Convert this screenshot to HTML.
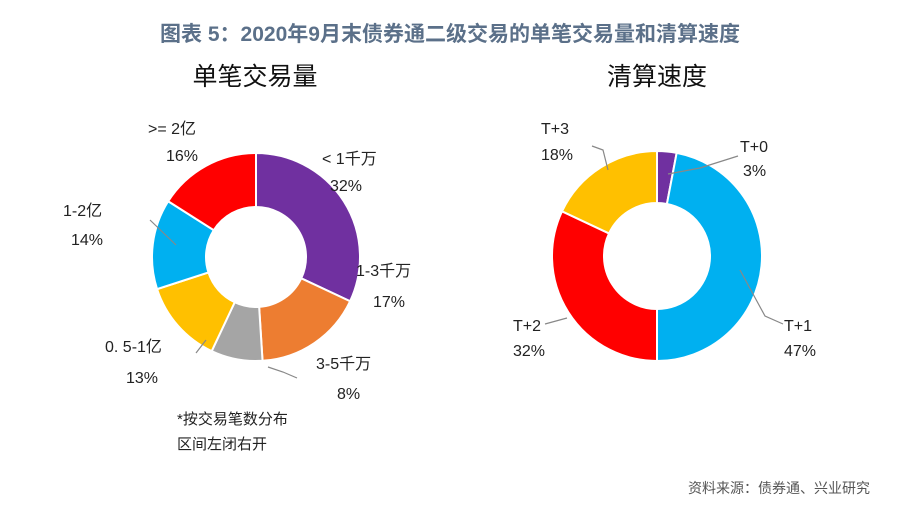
<!DOCTYPE html>
<html><head><meta charset="utf-8"><style>
body{margin:0;width:900px;height:523px;background:#fff;overflow:hidden;font-family:"Liberation Sans","Noto Sans CJK SC",sans-serif;}
svg text{font-family:"Liberation Sans","Noto Sans CJK SC",sans-serif;}
</style></head><body>
<svg width="900" height="523">
<text x="450" y="41" text-anchor="middle" font-size="21" font-weight="bold" fill="#5b7089">图表 5：2020年9月末债券通二级交易的单笔交易量和清算速度</text>
<text x="255" y="85" text-anchor="middle" font-size="25" fill="#111">单笔交易量</text>
<text x="657" y="85" text-anchor="middle" font-size="25" fill="#111">清算速度</text>
<g id="left"></g><g id="right"></g>
<g font-size="16" fill="#222" id="labels">
<text x="148" y="134">&gt;= 2亿</text><text x="166" y="161">16%</text>
<text x="322" y="164">&lt; 1千万</text><text x="330" y="191">32%</text>
<text x="63" y="216">1-2亿</text><text x="71" y="245">14%</text>
<text x="356" y="276">1-3千万</text><text x="373" y="307">17%</text>
<text x="105" y="352">0. 5-1亿</text><text x="126" y="383">13%</text>
<text x="316" y="369">3-5千万</text><text x="337" y="399">8%</text>
<text x="177" y="424" font-size="15">*按交易笔数分布</text>
<text x="177" y="449" font-size="15">区间左闭右开</text>
<text x="541" y="134">T+3</text><text x="541" y="160">18%</text>
<text x="740" y="152">T+0</text><text x="743" y="176">3%</text>
<text x="513" y="331">T+2</text><text x="513" y="356">32%</text>
<text x="784" y="331">T+1</text><text x="784" y="356">47%</text>
</g>
<g stroke="#888" stroke-width="1.2" fill="none">
<path d="M150,220 L176,245"/><path d="M196,353 L206,340"/><path d="M297,378 L283,372 L268,367"/>
<path d="M592,146 L603,150 L608,170"/><path d="M738,156 L700,168 L668,174"/><path d="M545,324 L567,318"/><path d="M783,324 L765,316 L740,270"/>
</g>
<text x="870" y="493" text-anchor="end" font-size="14" fill="#555">资料来源：债券通、兴业研究</text>
</svg>
<script>
const leftCats=["< 1千万","1-3千万","3-5千万","0.5-1亿","1-2亿",">= 2亿"];
const leftValues=[32,17,8,13,14,16];
const leftColors=["#7030a0","#ed7d31","#a5a5a5","#ffc000","#00b0f0","#ff0000"];
const rightCats=["T+0","T+1","T+2","T+3"];
const rightValues=[3,47,32,18];
const rightColors=["#7030a0","#00b0f0","#ff0000","#ffc000"];
function donut(gid,cx,cy,ro,ri,vals,cols,cats){
  const g=document.getElementById(gid);const tot=vals.reduce((a,b)=>a+b,0);let a=0;
  vals.forEach((v,i)=>{
    const a0=a/tot*2*Math.PI,a1=(a+v)/tot*2*Math.PI;a+=v;
    const p=(r,t)=>[cx+r*Math.sin(t),cy-r*Math.cos(t)];
    const [x0,y0]=p(ro,a0),[x1,y1]=p(ro,a1),[x2,y2]=p(ri,a1),[x3,y3]=p(ri,a0);
    const lg=(a1-a0)>Math.PI?1:0;
    const el=document.createElementNS("http://www.w3.org/2000/svg","path");
    el.setAttribute("d",`M${x0},${y0}A${ro},${ro} 0 ${lg} 1 ${x1},${y1}L${x2},${y2}A${ri},${ri} 0 ${lg} 0 ${x3},${y3}Z`);
    el.setAttribute("fill",cols[i]);el.setAttribute("stroke","#fff");el.setAttribute("stroke-width","2");
    
    
    g.appendChild(el);
  });
}
donut("left",256,257,104,50,leftValues,leftColors,leftCats);
donut("right",657,256,105,53,rightValues,rightColors,rightCats);
</script>
</body></html>
